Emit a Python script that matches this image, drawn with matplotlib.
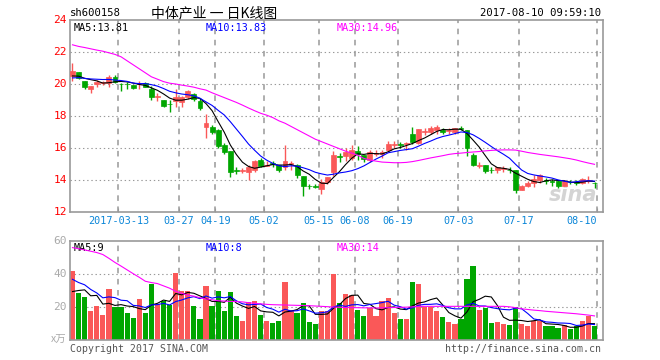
import numpy as np
import matplotlib
matplotlib.use('Agg')
import matplotlib.pyplot as plt

plt.rcParams['lines.scale_dashes'] = False

# daily candles
opens = [20.5, 20.73, 20.19, 19.71, 20.0, 20.06, 20.08, 20.42, 20.02, 20.02,
         19.92, 19.98, 20.04, 19.67, 19.19, 19.0, 18.77, 18.96, 18.87, 19.21,
         19.37, 18.91, 17.29, 17.33, 17.125, 16.2, 15.79, 14.6, 14.55, 14.52,
         14.625, 15.27, 14.875, 15.06, 14.94, 14.79, 15.0, 14.96, 14.25, 13.65,
         13.62, 13.44, 13.85, 14.52, 15.5, 15.52, 15.35, 15.79, 15.54, 15.25,
         15.65, 15.6, 15.85, 16.2, 16.25, 16.25, 16.9, 16.29, 17.0, 17.02,
         17.1, 17.15, 17.05, 17.02, 17.23, 17.1, 15.56, 14.9, 14.94, 14.65,
         14.6, 14.7, 14.65, 14.6, 13.4, 13.6, 13.83, 13.98, 14.0, 13.96,
         13.94, 13.65, 13.9, 13.88, 13.83, 13.96, 13.83]
highs = [21.33, 20.73, 20.19, 19.87, 20.25, 20.21, 20.54, 20.54, 20.04, 20.12,
         19.96, 20.21, 20.12, 19.87, 19.42, 19.0, 19.0, 19.67, 19.25, 19.62,
         19.46, 19.12, 18.125, 17.45, 17.2, 16.29, 15.8, 14.79, 14.75, 14.96,
         15.27, 15.35, 15.2, 15.2, 14.94, 16.2, 15.2, 15.0, 14.25, 13.75,
         13.72, 14.04, 14.21, 15.8, 15.67, 16.0, 16.19, 16.1, 15.56, 15.9,
         15.85, 15.9, 16.46, 16.46, 16.4, 16.4, 17.3, 17.17, 17.25, 17.35,
         17.44, 17.25, 17.25, 17.23, 17.4, 17.15, 15.7, 15.1, 14.95, 14.83,
         14.83, 14.9, 14.8, 14.6, 13.7, 13.94, 14.29, 14.4, 14.15, 14.04,
         14.0, 14.0, 14.0, 13.98, 14.15, 14.25, 13.9]
lows = [20.21, 20.3, 19.71, 19.46, 19.79, 19.96, 19.79, 20.04, 19.58, 19.71,
        19.71, 19.71, 19.83, 19.0, 18.96, 18.54, 18.25, 18.58, 18.54, 19.08,
        18.96, 18.37, 16.6, 16.88, 16.0, 15.6, 14.21, 14.38, 14.42, 14.0,
        14.52, 14.79, 14.85, 14.79, 14.52, 14.625, 14.625, 14.15, 13.0, 13.44,
        13.5, 13.1, 13.75, 14.25, 15.15, 15.2, 15.25, 15.25, 15.1, 15.15,
        15.5, 15.35, 15.77, 16.0, 16.0, 15.9, 16.25, 16.25, 16.8, 16.9,
        16.9, 16.88, 16.9, 16.9, 17.1, 15.5, 14.85, 14.75, 14.42, 14.42,
        14.42, 14.5, 14.42, 13.2, 13.35, 13.54, 13.56, 13.83, 13.73, 13.65,
        13.52, 13.6, 13.75, 13.7, 13.73, 13.83, 13.5]
closes = [20.81, 20.35, 19.83, 19.87, 20.12, 20.12, 20.46, 20.12, 19.98, 19.98,
          19.75, 20.02, 19.83, 19.21, 19.21, 18.62, 18.73, 19.17, 19.21, 19.54,
          19.08, 18.5, 17.54, 17.0, 16.125, 15.77, 14.52, 14.55, 14.6, 14.79,
          15.21, 14.875, 14.96, 15.0, 14.625, 15.21, 15.05, 14.31, 13.625, 13.6,
          13.58, 13.9, 14.19, 15.54, 15.44, 15.77, 15.85, 15.6, 15.33, 15.77,
          15.69, 15.77, 16.25, 16.25, 16.2, 16.3, 16.4, 17.17, 17.05, 17.23,
          17.33, 17.0, 17.1, 17.23, 17.2, 15.98, 14.94, 14.95, 14.58, 14.6,
          14.79, 14.74, 14.6, 13.4, 13.65, 13.83, 14.04, 14.29, 13.96, 13.9,
          13.65, 13.96, 13.85, 13.83, 14.04, 14.0, 13.81]
volumes = [41.8, 28.6, 26.2, 17.8, 20.8, 15.4, 31.0, 19.8, 20.2, 16.6,
           13.6, 25.0, 16.6, 34.0, 22.0, 23.4, 21.0, 40.6, 29.8, 29.4,
           20.8, 13.0, 32.8, 20.8, 29.8, 17.6, 28.8, 14.8, 11.8, 22.8,
           23.4, 15.4, 11.8, 10.6, 11.8, 35.2, 18.0, 16.6, 22.6, 11.2,
           9.4, 17.8, 17.8, 40.0, 22.2, 28.0, 27.4, 18.4, 14.8, 19.6,
           14.8, 23.8, 25.6, 16.6, 13.0, 13.0, 35.2, 34.2, 20.0, 20.0,
           17.8, 14.2, 11.2, 10.0, 13.0, 37.0, 44.8, 18.4, 19.6, 10.6,
           11.2, 9.4, 8.8, 20.2, 9.4, 8.2, 11.8, 11.8, 8.2, 8.2,
           7.0, 8.8, 6.4, 8.2, 11.8, 14.8, 8.2]

# sessions before the window (for the start of MA5 / MA10)
prior_closes = [20.2, 20.3, 20.2, 20.3, 20.3, 20.4, 20.5, 20.3, 20.5]
prior_volumes = [48, 40, 46, 42, 45, 25.4, 24.2, 35.8, 19.6]

# MA30 lines as drawn
ma30_price = [22.45, 22.35, 22.28, 22.2, 22.12, 22.05, 21.95, 21.85, 21.7, 21.45,
              21.2, 20.95, 20.7, 20.45, 20.3, 20.15, 20.05, 20.0, 19.93, 19.87,
              19.8, 19.7, 19.62, 19.45, 19.3, 19.15, 19.0, 18.85, 18.68, 18.5,
              18.33, 18.17, 18.05, 17.9, 17.7, 17.55, 17.35, 17.15, 16.95, 16.75,
              16.55, 16.4, 16.25, 16.1, 15.95, 15.8, 15.68, 15.55, 15.35, 15.25,
              15.18, 15.12, 15.1, 15.08, 15.08, 15.1, 15.15, 15.22, 15.3, 15.38,
              15.45, 15.52, 15.6, 15.65, 15.68, 15.72, 15.75, 15.78, 15.82, 15.85,
              15.87, 15.88, 15.88, 15.87, 15.8, 15.72, 15.66, 15.6, 15.55, 15.5,
              15.45, 15.39, 15.33, 15.25, 15.15, 15.06, 14.98]
ma30_volume = [56, 55.3, 54.6, 53.8, 53, 51.8, 49.5, 47, 44.8, 42.5,
               40.2, 38, 35.6, 34.8, 34.2, 32.8, 31.4, 29.5, 28.3, 27.2,
               26.6, 25.6, 24.9, 24.4, 23.8, 23.6, 23.4, 23.3, 23.1, 22.6,
               22.2, 21.9, 21.6, 21.4, 21.3, 21.2, 21.1, 21.0, 20.9, 20.8,
               20.6, 20.4, 20.2, 20.0, 19.8, 19.7, 19.6, 19.6, 19.5, 19.5,
               19.4, 19.5, 19.6, 19.7, 19.8, 19.9, 20.1, 20.3, 20.4, 20.4,
               20.4, 20.4, 20.4, 20.4, 20.4, 20.4, 20.4, 20.4, 20.4, 20.4,
               20.4, 20.4, 20.1, 19.6, 18.9, 18.5, 18.1, 17.8, 17.4, 17.1,
               16.8, 16.5, 16.2, 15.9, 15.5, 15.1, 14.6]

date_idx = [8, 18, 24, 32, 41, 47, 54, 64, 74, 86]
date_labels = ['2017-03-13', '03-27', '04-19', '05-02', '05-15', '06-08',
               '06-19', '07-03', '07-17', '08-10']

price_ticks = [12, 14, 16, 18, 20, 22, 24]
vol_ticks = [20, 40, 60]

RED = '#fa5858'
GREEN = '#00a600'
FRAME = '#999999'
MONO = 'DejaVu Sans Mono'
CJK = ['Noto Sans CJK SC', 'DejaVu Sans']
FS = 7.3


def sma(hist, vals, n):
    full = np.r_[hist, vals]
    start = len(hist)
    return np.array([full[k - n + 1:k + 1].mean() for k in range(start, len(full))])


o = np.array(opens)
h = np.array(highs)
l = np.array(lows)
c = np.array(closes)
v = np.array(volumes)
x = np.arange(len(c))
up = c >= o
colors = np.where(up, RED, GREEN)

W, H = 660, 360
fig = plt.figure(figsize=(W / 100, H / 100), dpi=100)
fig.patch.set_facecolor('white')


def px_axes(left, top, right, bottom):
    return fig.add_axes([left / W, 1 - bottom / H, (right - left) / W, (bottom - top) / H])


ax = px_axes(70, 20, 603, 212)
axv = px_axes(70, 241, 603, 340)

xmin, xmax = -0.41, 87.4
tick_pos = [i - 0.45 for i in date_idx[:-1]] + [date_idx[-1] + 0.35]

for a in (ax, axv):
    a.set_xlim(xmin, xmax)
    for s in a.spines.values():
        s.set_color(FRAME)
        s.set_linewidth(1.2)
    for tp in tick_pos:
        a.axvline(tp, color='#a8a8a8', lw=1.3, dashes=(4, 4), zorder=0)
    a.set_yticks([])

# price panel
ax.set_ylim(12, 24)
for g in price_ticks[1:-1]:
    ax.axhline(g, color='#999999', lw=0.8, dashes=(1, 2), zorder=0)

ax.vlines(x, l, h, colors=colors, lw=1.0, zorder=2)
body_lo = np.minimum(o, c)
body_h = np.maximum(np.abs(c - o), 0.03)
ax.bar(x, body_h, bottom=body_lo, width=0.8, color=colors, edgecolor=colors,
       linewidth=0.5, zorder=3)

ax.plot(x, sma(prior_closes, c, 5), color='black', lw=0.8, zorder=4)
ax.plot(x, sma(prior_closes, c, 10), color='#0000ff', lw=0.8, zorder=4)
ax.plot(x, ma30_price, color='#ff00ff', lw=0.8, zorder=4)

ax.set_xticks(tick_pos)
ax.set_xticklabels([])
ax.tick_params(axis='x', direction='in', length=3, color=FRAME)
for tp, lab in zip(tick_pos, date_labels):
    ha = 'right' if lab == date_labels[-1] else 'center'
    ax.text(tp, -9 / 192, lab, transform=ax.get_xaxis_transform(), ha=ha, va='center',
            color='#0b86d8', fontsize=FS, family=MONO)

for t in price_ticks:
    ax.text(-0.006, t, str(t), transform=ax.get_yaxis_transform(), ha='right',
            va='center', color='red', fontsize=8, family=MONO)

ax.text(4 / 533, 0.985, 'MA5:13.81', transform=ax.transAxes, ha='left', va='top',
        fontsize=FS, family=MONO, color='black')
ax.text(136 / 533, 0.985, 'MA10:13.83', transform=ax.transAxes, ha='left', va='top',
        fontsize=FS, family=MONO, color='#0000ff')
ax.text(267 / 533, 0.985, 'MA30:14.96', transform=ax.transAxes, ha='left', va='top',
        fontsize=FS, family=MONO, color='#ff00ff')
ax.text(0.99, 0.035, 'sina', transform=ax.transAxes, ha='right', va='bottom',
        fontsize=15, fontweight='bold', style='italic', color='#d4d4d4', zorder=1)

# volume panel
axv.set_ylim(0, 60)
for g in (20, 40):
    axv.axhline(g, color='#999999', lw=0.8, dashes=(1, 2), zorder=0)
axv.bar(x, v, width=0.86, color=colors, linewidth=0, zorder=2)
axv.plot(x, sma(prior_volumes, v, 5), color='black', lw=0.8, zorder=4)
axv.plot(x, sma(prior_volumes, v, 10), color='#0000ff', lw=0.8, zorder=4)
axv.plot(x, ma30_volume, color='#ff00ff', lw=0.8, zorder=4)
axv.set_xticks([])

for t in vol_ticks:
    axv.text(-0.006, t, str(t), transform=axv.get_yaxis_transform(), ha='right',
             va='center', color='#aaaaaa', fontsize=8, family=MONO)
axv.text(-0.006, 0, 'x万', transform=axv.get_yaxis_transform(), ha='right',
         va='center', color='#aaaaaa', fontsize=7.5, family=CJK)

axv.text(4 / 533, 0.975, 'MA5:9', transform=axv.transAxes, ha='left', va='top',
         fontsize=FS, family=MONO, color='black')
axv.text(136 / 533, 0.975, 'MA10:8', transform=axv.transAxes, ha='left', va='top',
         fontsize=FS, family=MONO, color='#0000ff')
axv.text(267 / 533, 0.975, 'MA30:14', transform=axv.transAxes, ha='left', va='top',
         fontsize=FS, family=MONO, color='#ff00ff')

# header and footer
fig.text(70 / W, 1 - 13 / H, 'sh600158', ha='left', va='center', fontsize=7.6,
         family=MONO, color='black')
fig.text(151 / W, 1 - 13 / H, '中体产业 一 日K线图', ha='left', va='center',
         fontsize=10, family=CJK, color='black')
fig.text(601 / W, 1 - 13 / H, '2017-08-10 09:59:10', ha='right', va='center',
         fontsize=7.6, family=MONO, color='black')
fig.text(70 / W, 1 - 349 / H, 'Copyright 2017 SINA.COM', ha='left', va='center',
         fontsize=7.1, family=MONO, color='#555555')
fig.text(601 / W, 1 - 349 / H, 'http://finance.sina.com.cn', ha='right', va='center',
         fontsize=7.1, family=MONO, color='#555555')

fig.savefig('out.png', dpi=100, facecolor='white')
